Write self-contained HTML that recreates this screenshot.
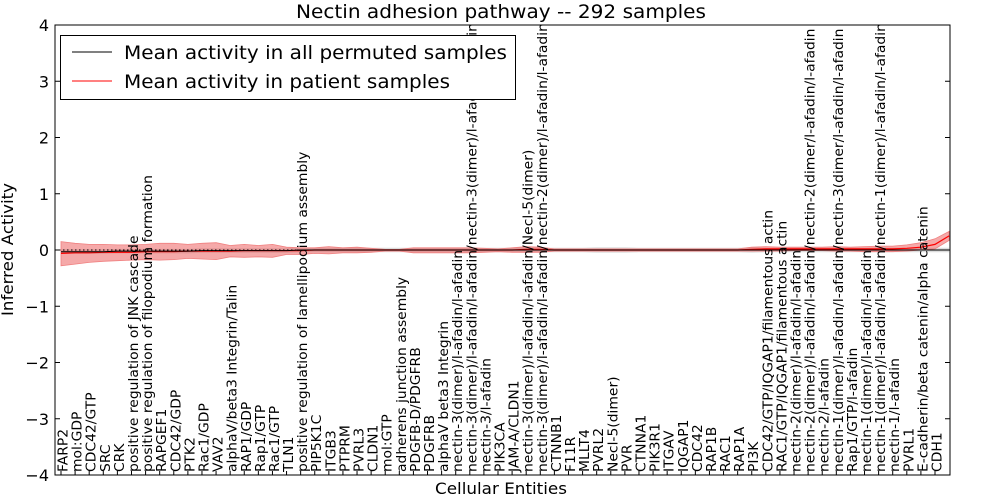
<!DOCTYPE html>
<html><head><meta charset="utf-8">
<style>
html,body{margin:0;padding:0;background:#fff;}
svg{display:block;font-family:"DejaVu Sans","Liberation Sans",sans-serif;}
</style></head>
<body>
<svg id="chart" width="1000" height="500" viewBox="0 0 1000 500">
  <defs><clipPath id="plotclip"><rect x="55" y="25" width="895" height="450"/></clipPath></defs>
  <rect width="1000" height="500" fill="#fff"/>
  <text x="296" y="18" font-size="19" textLength="410" lengthAdjust="spacingAndGlyphs">Nectin adhesion pathway -- 292 samples</text>
  <g id="bands"></g>
  <g id="lines"></g>
  <g id="xlabels" clip-path="url(#plotclip)"></g>
  <g id="yticks"></g>
  <rect x="55" y="25" width="895" height="450" fill="none" stroke="#000" stroke-width="1"/>
  <text x="435" y="494" font-size="16" textLength="132" lengthAdjust="spacingAndGlyphs">Cellular Entities</text>
  <text transform="translate(13,316) rotate(-90)" font-size="16" textLength="133" lengthAdjust="spacingAndGlyphs">Inferred Activity</text>
  <g>
    <rect x="60.5" y="35.5" width="455" height="64" fill="#fff" stroke="#000"/>
    <line x1="72" y1="52" x2="112" y2="52" stroke="#000" stroke-width="1"/>
    <text x="124" y="59" font-size="19" textLength="383" lengthAdjust="spacingAndGlyphs">Mean activity in all permuted samples</text>
    <line x1="72" y1="81" x2="112" y2="81" stroke="#f00" stroke-width="1"/>
    <text x="124" y="88" font-size="19" textLength="326" lengthAdjust="spacingAndGlyphs">Mean activity in patient samples</text>
  </g>
</svg>
<script>
const categories = ["FARP2","mol:GDP","CDC42/GTP","SRC","CRK","positive regulation of JNK cascade","positive regulation of filopodium formation","RAPGEF1","CDC42/GDP","PTK2","Rac1/GDP","VAV2","alphaV/beta3 Integrin/Talin","RAP1/GDP","Rap1/GTP","Rac1/GTP","TLN1","positive regulation of lamellipodium assembly","PIP5K1C","ITGB3","PTPRM","PVRL3","CLDN1","mol:GTP","adherens junction assembly","PDGFB-D/PDGFRB","PDGFRB","alphaV beta3 Integrin","nectin-3(dimer)/l-afadin/l-afadin","nectin-3(dimer)/l-afadin/l-afadin/nectin-3(dimer)/l-afadin/l-afadin","nectin-3/l-afadin","PIK3CA","JAM-A/CLDN1","nectin-3(dimer)/l-afadin/l-afadin/Necl-5(dimer)","nectin-3(dimer)/l-afadin/l-afadin/nectin-2(dimer)/l-afadin/l-afadin","CTNNB1","F11R","MLLT4","PVRL2","Necl-5(dimer)","PVR","CTNNA1","PIK3R1","ITGAV","IQGAP1","CDC42","RAP1B","RAC1","RAP1A","PI3K","CDC42/GTP/IQGAP1/filamentous actin","RAC1/GTP/IQGAP1/filamentous actin","nectin-2(dimer)/l-afadin/l-afadin","nectin-2(dimer)/l-afadin/l-afadin/nectin-2(dimer/l-afadin/l-afadin","nectin-2/l-afadin","nectin-1(dimer)/l-afadin/l-afadin/nectin-3(dimer/l-afadin/l-afadin","Rap1/GTP/l-afadin","nectin-1(dimer)/l-afadin/l-afadin","nectin-1(dimer)/l-afadin/l-afadin/nectin-1(dimer)/l-afadin/l-afadin","nectin-1/l-afadin","PVRL1","E-cadherin/beta catenin/alpha catenin","CDH1"];
const patientMean = [-0.06,-0.05,-0.05,-0.04,-0.04,-0.04,-0.03,-0.03,-0.03,-0.02,-0.02,-0.02,-0.02,-0.01,-0.01,-0.01,-0.01,-0.01,0,0,0,0,0,0,0,0,0,0,0,0,0,0,0,0.01,0.01,0,0,0,0,0,0,0,0,0,0,0,0,0,0,0.01,0.02,0.02,0.02,0.02,0.02,0.02,0.02,0.02,0.02,0.02,0.03,0.05,0.1,0.25];
const patientUpper = [0.15,0.12,0.1,0.1,0.09,0.09,0.1,0.12,0.12,0.1,0.12,0.13,0.08,0.1,0.08,0.1,0.05,0.04,0.04,0.06,0.04,0.05,0.03,0.01,0.01,0.04,0.04,0.04,0.04,0.04,0.03,0.02,0.04,0.06,0.05,0.02,0.02,0.02,0.02,0.02,0.02,0.02,0.02,0.02,0.02,0.02,0.02,0.02,0.02,0.05,0.06,0.05,0.05,0.05,0.05,0.06,0.05,0.06,0.07,0.07,0.09,0.13,0.2,0.33];
const patientLower = [-0.28,-0.25,-0.22,-0.2,-0.19,-0.18,-0.17,-0.18,-0.17,-0.15,-0.16,-0.17,-0.12,-0.13,-0.12,-0.13,-0.08,-0.08,-0.06,-0.07,-0.05,-0.05,-0.04,-0.02,-0.02,-0.05,-0.05,-0.05,-0.05,-0.05,-0.04,-0.03,-0.04,-0.04,-0.04,-0.02,-0.02,-0.02,-0.02,-0.02,-0.02,-0.02,-0.02,-0.02,-0.02,-0.02,-0.02,-0.02,-0.02,-0.02,-0.02,-0.02,-0.01,-0.01,-0.01,-0.02,-0.02,-0.03,-0.03,-0.03,-0.02,0,0.02,0.17];
const permutedMean = [-0.03,-0.03,-0.03,-0.03,-0.02,-0.02,-0.02,-0.02,-0.02,-0.02,-0.01,-0.01,-0.01,-0.01,-0.01,-0.01,-0.01,0,0,0,0,0,0,0,0,0,0,0,0,0,0,0,0,0,0,0,0,0,0,0,0,0,0,0,0,0,0,0,0,0,0,0,0,0,0,0,0,0,0,0,0,0,0,0];
const permutedSpread = [0.04,0.04,0.04,0.04,0.04,0.04,0.04,0.04,0.04,0.04,0.04,0.04,0.04,0.04,0.04,0.04,0.04,0.04,0.04,0.04,0.04,0.04,0.04,0.04,0.04,0.04,0.04,0.04,0.04,0.04,0.04,0.04,0.04,0.05,0.04,0.04,0.04,0.04,0.05,0.05,0.05,0.04,0.04,0.04,0.04,0.04,0.04,0.04,0.04,0.05,0.04,0.04,0.04,0.04,0.04,0.04,0.04,0.04,0.04,0.04,0.04,0.04,0.04,0.04];
const yTicks = [4,3,2,1,0,-1,-2,-3,-4];

const NS = "http://www.w3.org/2000/svg";
const X0 = 61, X1 = 935, TOP = 25, BOT = 475, YMAX = 4, YMIN = -4;
function xs(i){ return X0 + (X1 - X0) * i / (categories.length - 1); }
function ys(v){ return TOP + (YMAX - v) / (YMAX - YMIN) * (BOT - TOP); }
function mk(tag, attrs){ const e = document.createElementNS(NS, tag); for (const k in attrs) e.setAttribute(k, attrs[k]); return e; }
function bandPath(up, lo){
  let d = "";
  up.forEach((v,i)=>{ d += (i?"L":"M") + xs(i).toFixed(1) + "," + ys(v).toFixed(1); });
  for (let i = lo.length-1; i>=0; i--) d += "L" + xs(i).toFixed(1) + "," + ys(lo[i]).toFixed(1);
  return d + "Z";
}
function linePath(vals){ return vals.map((v,i)=>(i?"L":"M")+xs(i).toFixed(1)+","+ys(v).toFixed(1)).join(""); }

const bands = document.getElementById("bands");
const gUp = permutedMean.map((m,i)=>m+permutedSpread[i]);
const gLo = permutedMean.map((m,i)=>m-permutedSpread[i]);
const gb = mk("path", {d: bandPath(gUp, gLo), fill:"#bbbbbb", "fill-opacity":"0.5"});


bands.appendChild(gb);
const rb = mk("path", {d: bandPath(patientUpper, patientLower), fill:"#e84040", "fill-opacity":"0.45", stroke:"#f08080", "stroke-width":"0.8"});


bands.appendChild(rb);

const lines = document.getElementById("lines");
const zl = mk("line", {x1:55, x2:950, y1:ys(0), y2:ys(0), stroke:"#000", "stroke-width":"1", "stroke-dasharray":"1.5,2.5"});


lines.appendChild(zl);
const rl = mk("path", {d: linePath(patientMean), fill:"none", stroke:"#f00", "stroke-width":"1.2"});


lines.appendChild(rl);
const pl = mk("path", {d: linePath(permutedMean), fill:"none", stroke:"#000", "stroke-width":"1"});


lines.appendChild(pl);

const xl = document.getElementById("xlabels");
categories.forEach((c,i)=>{
  const x = xs(i);
  const t = mk("line", {x1:x, x2:x, y1:BOT, y2:BOT-4, stroke:"#000"});
  
  
  xl.appendChild(t);
  const tx = mk("text", {transform:"translate(" + (x+6.5).toFixed(1) + "," + (BOT-3) + ") rotate(-90) scale(1.03,1)", "font-size":"13.5"});
  tx.textContent = c;
  
  
  xl.appendChild(tx);
});

const yt = document.getElementById("yticks");
yTicks.forEach(v=>{
  const y = ys(v);
  const l1 = mk("line", {x1:55, x2:60, y1:y, y2:y, stroke:"#000"});
  
  
  yt.appendChild(l1);
  const l2 = mk("line", {x1:945, x2:950, y1:y, y2:y, stroke:"#000"});
  
  
  yt.appendChild(l2);
  const t = mk("text", {x:49, y:y+6, "font-size":"16", "text-anchor":"end"});
  t.textContent = v < 0 ? "\u2212" + Math.abs(v) : String(v);
  
  
  yt.appendChild(t);
});
</script>
</body></html>
